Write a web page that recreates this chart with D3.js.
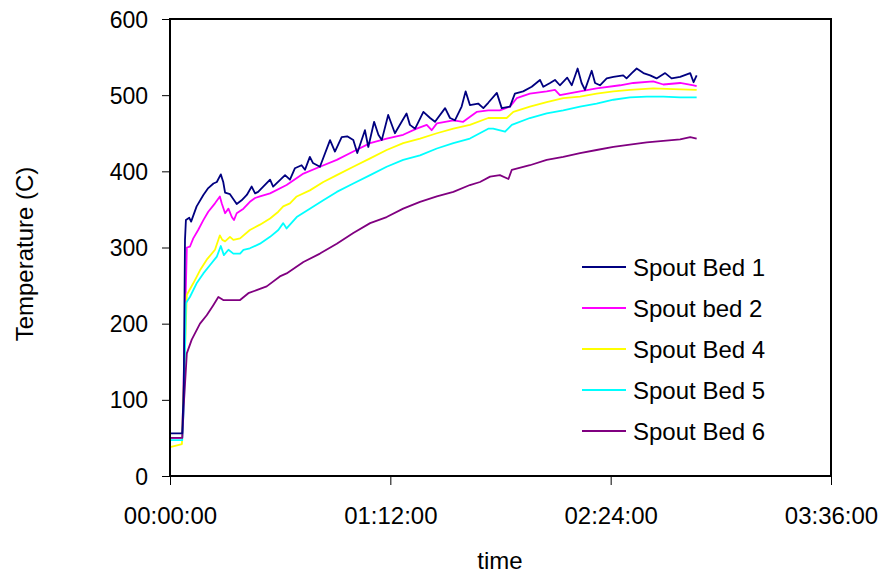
<!DOCTYPE html>
<html>
<head>
<meta charset="utf-8">
<script src="https://cdn.jsdelivr.net/npm/d3@7"></script>
<style>
  html, body { margin: 0; padding: 0; background: #fff; }
  svg text { font-family: "Liberation Sans", Arial, sans-serif; fill: #000; }
</style>
</head>
<body>
<svg id="chart" width="883" height="577"></svg>
<script>
// ---- data (time in minutes, temperature in C) ----
const seriesNames = ["Spout Bed 1", "Spout bed 2", "Spout Bed 4", "Spout Bed 5", "Spout Bed 6"];
const seriesColors = ["#000080", "#FF00FF", "#FFFF00", "#00FFFF", "#800080"];

const bed1Time = [0,4.0,4.5,4.9,5.2,6.3,6.9,8.7,10.9,12.5,14.2,15.3,16.6,17.4,18.0,19.6,21.8,23.4,25.1,26.7,27.8,28.8,32.7,33.7,37.6,39.2,40.8,43.0,44.1,45.7,46.7,49.0,52.3,53.9,56.1,57.9,59.9,61.2,63.7,64.8,66.7,68.1,69.2,71.3,73.5,75.7,77.3,78.4,80.1,82.8,85.0,86.6,89.9,91.5,93.1,95.3,96.6,98.0,100.7,102.4,104.0,106.8,108.4,111.1,112.7,115.4,118.2,120.9,122.0,124.2,125.8,127.4,129.8,131.3,133.2,134.5,135.6,137.8,138.9,140.5,142.7,144.9,148.1,149.2,150.9,152.5,154.7,156.9,159.0,161.8,163.9,166.7,170.0,171.1,172.1];
const bed1Temp = [56,56,120,310,336,339,334,354,369,378,384,386,396,386,372,370,357,362,369,380,371,373,389,380,395,389,404,408,402,419,411,406,441,426,445,446,441,424,454,432,465,448,441,474,450,465,476,461,456,478,470,465,483,470,467,485,505,487,489,483,490,503,483,485,502,505,511,520,511,516,520,513,523,513,535,516,507,532,516,513,522,524,526,522,529,535,529,526,522,529,522,524,529,517,526];

const bed2Time = [0,4.0,4.6,5.5,6.5,7.6,9.2,10.9,12.5,14.7,16.3,16.9,18.0,19.1,20.2,20.9,21.8,24.0,26.1,27.8,29.4,32.7,38.1,43.6,49.0,54.5,59.9,65.4,70.8,76.2,80.6,83.9,85.5,87.2,92.6,95.8,100.2,104.0,107.8,111.1,113.3,117.6,123.1,125.8,127.4,134.0,139.4,147.1,151.4,157.9,161.2,166.7,171.1,172.1];
const bed2Temp = [50,50,150,300,301,312,323,336,347,358,367,358,345,351,340,336,345,351,360,365,367,371,382,397,406,415,426,437,443,448,456,461,454,463,467,465,478,480,480,485,496,502,505,507,500,505,509,513,516,518,514,516,513,512];

const bed4Time = [0,2.0,3.9,4.5,5.5,7.6,9.8,12.0,14.7,16.3,17.1,18.0,19.6,20.7,22.9,26.1,29.4,32.7,35.4,37.0,39.2,41.4,45.7,50.1,54.5,59.9,65.4,70.8,76.2,81.7,87.2,92.6,98.0,104.0,110.0,112.2,117.6,123.1,128.5,134.0,139.4,144.9,150.3,157.9,164.5,172.1];
const bed4Temp = [38,40,42,120,238,253,270,284,297,316,310,308,314,310,312,323,330,338,347,354,358,367,375,386,395,406,417,428,437,443,450,456,461,470,470,478,485,491,496,498,502,505,507,509,508,507];

const bed5Time = [0,4.0,4.6,5.2,6.5,8.7,10.9,13.1,15.3,16.6,17.6,19.1,20.7,22.9,24.0,26.1,29.4,32.7,35.4,37.0,38.1,41.4,45.7,50.1,54.5,59.9,65.4,70.8,76.2,81.7,87.2,92.6,98.0,104.0,105.6,109.5,111.7,117.6,123.1,128.5,134.0,139.4,144.9,150.3,155.8,161.2,166.7,172.1];
const bed5Temp = [47,47,100,227,235,253,266,277,288,302,290,297,292,292,297,299,305,314,323,332,325,340,351,362,373,384,395,406,415,421,430,437,443,456,456,452,461,470,476,480,485,489,494,497,498,498,497,497];

const bed6Time = [0,4.0,4.6,5.5,7.1,9.8,12.0,14.1,15.8,17.4,19.6,22.9,25.6,28.3,31.6,35.9,38.1,43.6,49.0,54.5,59.9,65.4,70.8,76.2,81.7,87.2,92.6,98.0,101.3,104.6,107.8,110.6,111.7,117.6,123.1,128.5,134.0,139.4,144.9,150.3,155.8,161.2,166.7,170.0,172.1];
const bed6Temp = [50,50,100,161,179,200,211,224,235,231,231,231,240,244,249,262,266,281,292,305,319,332,340,351,360,367,373,382,386,393,395,390,402,408,415,419,424,428,432,435,438,440,442,445,443];

const xTickValues = [0, 72, 144, 216];
const xTickLabels = ["00:00:00", "01:12:00", "02:24:00", "03:36:00"];
const yTickValues = [0, 100, 200, 300, 400, 500, 600];

const seriesTimes = [bed1Time, bed2Time, bed4Time, bed5Time, bed6Time];
const seriesTemps = [bed1Temp, bed2Temp, bed4Temp, bed5Temp, bed6Temp];

// ---- layout ----
const svg = d3.select("#chart");
const plotL = 170, plotR = 831, plotT = 19, plotB = 476;

const x = d3.scaleLinear().domain([0, 216]).range([plotL, plotR]);
const y = d3.scaleLinear().domain([0, 600]).range([plotB, plotT]);

// axes
const yAxis = d3.axisLeft(y).tickValues(yTickValues).tickSize(8).tickPadding(14);
const gy = svg.append("g").attr("transform", `translate(${plotL},0)`).call(yAxis);
gy.select(".domain").remove();
gy.selectAll("line").attr("stroke", "#000").attr("stroke-width", 1);
gy.selectAll("text").attr("font-size", "23px").attr("dy", "0.35em");

const xAxis = d3.axisBottom(x).tickValues(xTickValues).tickSize(9).tickPadding(22)
  .tickFormat((d, i) => xTickLabels[i]);
const gx = svg.append("g").attr("transform", `translate(0,${plotB})`).call(xAxis);
gx.select(".domain").remove();
gx.selectAll("line").attr("stroke", "#000").attr("stroke-width", 1);
gx.selectAll("text").attr("font-size", "24px").attr("dy", "0.71em");

// series lines
const line = d3.line().x(d => x(d[0])).y(d => y(d[1]));
const g = svg.append("g");
const paths = [];
seriesNames.forEach((name, i) => {
  const pts = seriesTimes[i].map((t, j) => [t, seriesTemps[i][j]]);
  paths.push(g.append("path")
    .datum(pts)
    .attr("d", line)
    .attr("fill", "none")
    .attr("stroke", seriesColors[i])
    .attr("stroke-width", 1.8)
    .attr("stroke-linejoin", "round"));
});
paths[0].raise();

// frame
svg.append("rect")
  .attr("x", plotL).attr("y", plotT)
  .attr("width", plotR - plotL).attr("height", plotB - plotT)
  .attr("fill", "none").attr("stroke", "#000").attr("stroke-width", 2);

// axis titles
svg.append("text").attr("x", 500).attr("y", 569).attr("text-anchor", "middle")
  .attr("font-size", "24px").text("time");
svg.append("text").attr("transform", "translate(33,254) rotate(-90)")
  .attr("text-anchor", "middle").attr("font-size", "24px").text("Temperature (C)");

// legend
const legend = svg.append("g");
seriesNames.forEach((name, i) => {
  const cy = 267 + i * 41;
  legend.append("line").attr("x1", 582).attr("x2", 626).attr("y1", cy).attr("y2", cy)
    .attr("stroke", seriesColors[i]).attr("stroke-width", 1.8);
  legend.append("text").attr("x", 633).attr("y", cy + 9).attr("font-size", "24px").text(name);
});
</script>
</body>
</html>
